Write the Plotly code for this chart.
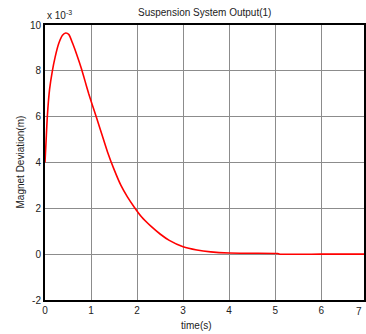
import plotly.graph_objects as go

time_s = [0.0, 0.03, 0.05, 0.1, 0.16, 0.22, 0.3, 0.38, 0.45, 0.52, 0.6, 0.7, 0.79, 0.87, 0.95,
          1.03, 1.12, 1.24, 1.36, 1.5, 1.65, 1.79, 1.94, 2.1, 2.3, 2.5, 2.7, 3.0, 3.3, 3.6,
          4.0, 4.5, 5.05, 5.1, 6.0, 7.0]
deviation_e3 = [4.0, 5.2, 6.0, 7.2, 8.0, 8.6, 9.2, 9.55, 9.65, 9.58, 9.2, 8.65, 8.1, 7.55, 7.0,
                6.5, 5.95, 5.2, 4.45, 3.7, 3.0, 2.5, 2.05, 1.62, 1.22, 0.88, 0.6, 0.32, 0.18, 0.1,
                0.05, 0.04, 0.03, 0.0, 0.0, 0.0]

x_ticks = [0, 1, 2, 3, 4, 5, 6]
y_ticks = [-2, 0, 2, 4, 6, 8, 10]

title_text = "Suspension System Output(1)"
x_label = "time(s)"
y_label = "Magnet Deviation(m)"
exponent_text = "x 10<sup>-3</sup>"

font_family = "Liberation Sans, Arial, sans-serif"

fig = go.Figure()
fig.add_trace(go.Scatter(
    x=time_s, y=deviation_e3, mode="lines",
    line=dict(color="#ff0000", width=1.6, shape="spline", smoothing=0.5),
    showlegend=False, hoverinfo="skip",
))

fig.update_layout(
    width=366, height=334,
    margin=dict(l=45, r=0, t=25, b=34),
    paper_bgcolor="white", plot_bgcolor="white",
    font=dict(family=font_family, size=10, color="#222"),
    xaxis=dict(
        range=[0, 6.93], tickvals=x_ticks, ticktext=[str(v) for v in x_ticks],
        showgrid=True, gridcolor="#8c8c8c", gridwidth=1,
        showline=True, linecolor="black", linewidth=2, mirror=True,
        ticks="", zeroline=False, tickfont=dict(size=10, color="#222"),
    ),
    yaxis=dict(
        range=[-2, 10], tickvals=y_ticks, ticktext=[str(v) for v in y_ticks],
        showgrid=True, gridcolor="#8c8c8c", gridwidth=1,
        showline=True, linecolor="black", linewidth=2, mirror=True,
        ticks="", zeroline=False, tickfont=dict(size=10, color="#222"),
    ),
    annotations=[
        dict(text=title_text, xref="paper", yref="paper", x=(205 - 45) / 321, y=1,
             yshift=13, showarrow=False, xanchor="center", yanchor="middle",
             font=dict(size=10, color="#222")),
        dict(text=exponent_text, xref="paper", yref="paper", x=0, y=1,
             yshift=10, showarrow=False, xanchor="left", yanchor="middle",
             font=dict(size=10, color="#222")),
        dict(text=y_label, xref="paper", yref="paper", x=0, xshift=-25, y=0.5,
             textangle=-90, showarrow=False, xanchor="center", yanchor="middle",
             font=dict(size=10, color="#222")),
        dict(text=x_label, xref="paper", yref="paper", x=(197 - 45) / 321, y=0,
             yshift=-25, showarrow=False, xanchor="center", yanchor="middle",
             font=dict(size=10, color="#222")),
        dict(text="7", xref="paper", yref="paper", x=(366 - 45) / 321, y=0,
             yshift=-11, showarrow=False, xanchor="right", yanchor="middle",
             font=dict(size=10, color="#222")),
    ],
)

fig.write_html("out.html")
